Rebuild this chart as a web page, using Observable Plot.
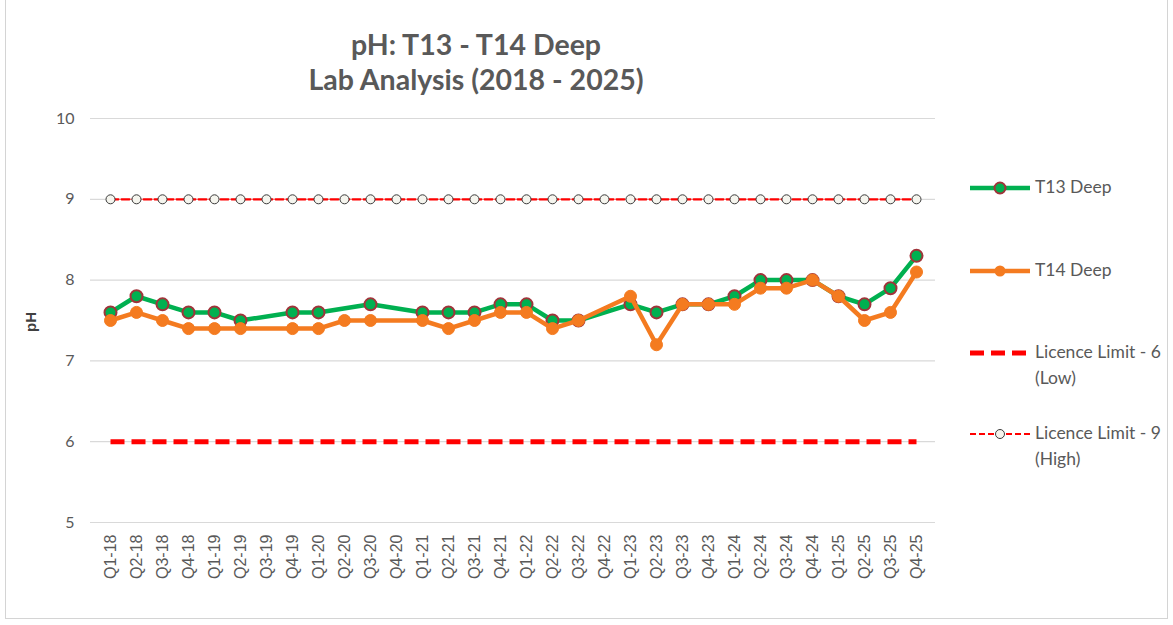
<!DOCTYPE html>
<html>
<head>
<meta charset="utf-8">
<script src="https://cdn.jsdelivr.net/npm/d3@7"></script>
<script src="https://cdn.jsdelivr.net/npm/@observablehq/plot@0.6"></script>
<style>
  html, body { margin: 0; padding: 0; background: #fff; }
  #wrap { position: relative; width: 1173px; height: 625px; overflow: hidden; font-family: Lato, "Open Sans", sans-serif; }
  #frame { position: absolute; left: 5px; top: -1px; width: 1163px; height: 620px; border: 1px solid #d4d4d4; box-sizing: border-box; }
  #title { position: absolute; left: 226px; width: 500px; top: 27px; text-align: center; font-weight: bold; font-size: 28.5px; line-height: 35px; color: #595959; }
  #chart { position: absolute; left: 0; top: 100px; }
  #ylab { position: absolute; left: 30px; top: 322px; transform: translate(-50%, -50%) rotate(-90deg); font-weight: bold; font-size: 15px; color: #404040; font-family: "Liberation Sans", Arial, sans-serif; }
  .leg { position: absolute; left: 968px; display: flex; align-items: flex-start; font-size: 17.5px; color: #595959; line-height: 26px; }
  .leg svg { margin-top: 2px; margin-right: 3px; flex: none; }
</style>
</head>
<body>
<div id="wrap">
  <div id="frame"></div>
  <div id="title">pH: T13 - T14 Deep<br>Lab Analysis (2018 - 2025)</div>
  <div id="chart"></div>
  <div id="ylab">pH</div>
  <div id="legend"></div>
</div>
<script>
const quarters = ["Q1-18","Q2-18","Q3-18","Q4-18","Q1-19","Q2-19","Q3-19","Q4-19",
  "Q1-20","Q2-20","Q3-20","Q4-20","Q1-21","Q2-21","Q3-21","Q4-21",
  "Q1-22","Q2-22","Q3-22","Q4-22","Q1-23","Q2-23","Q3-23","Q4-23",
  "Q1-24","Q2-24","Q3-24","Q4-24","Q1-25","Q2-25","Q3-25","Q4-25"];
const t13 = [7.6,7.8,7.7,7.6,7.6,7.5,null,7.6,
  7.6,null,7.7,null,7.6,7.6,7.6,7.7,
  7.7,7.5,7.5,null,7.7,7.6,7.7,7.7,
  7.8,8.0,8.0,8.0,7.8,7.7,7.9,8.3];
const t14 = [7.5,7.6,7.5,7.4,7.4,7.4,null,7.4,
  7.4,7.5,7.5,null,7.5,7.4,7.5,7.6,
  7.6,7.4,7.5,null,7.8,7.2,7.7,7.7,
  7.7,7.9,7.9,8.0,7.8,7.5,7.6,8.1];
const limitLow = 6;
const limitHigh = 9;
const yTicks = [5, 6, 7, 8, 9, 10];

const seriesNames = ["T13 Deep", "T14 Deep", "Licence Limit - 6 (Low)", "Licence Limit - 9 (High)"];

const d13 = quarters.map((q, i) => ({q, v: t13[i]})).filter(d => d.v != null);
const d14 = quarters.map((q, i) => ({q, v: t14[i]})).filter(d => d.v != null);
const dLow = quarters.map(q => ({q, v: limitLow}));
const dHigh = quarters.map(q => ({q, v: limitHigh}));

const green = "#00B050", orange = "#F47B20", red = "#FF0000";

const chart = Plot.plot({
  width: 1173,
  height: 525,
  marginLeft: 90,
  marginRight: 238,
  marginTop: 18,
  marginBottom: 103,
  style: {fontFamily: "'Liberation Sans', Arial, sans-serif", color: "#595959", background: "transparent"},
  x: {type: "point", domain: quarters, padding: 0.5},
  y: {domain: [5, 10]},
  marks: [
    Plot.ruleY(yTicks, {stroke: "#d9d9d9", strokeWidth: 1.2}),
    Plot.axisY({ticks: yTicks, tickFormat: d => String(d), tickSize: 0, tickPadding: 16, fontSize: 16, label: null, fill: "#595959", fontFamily: "Lato, sans-serif"}),
    Plot.axisX({tickSize: 0, tickRotate: -90, tickPadding: 12, fontSize: 16, label: null, fill: "#595959"}),
    Plot.line(dLow, {x: "q", y: "v", stroke: red, strokeWidth: 5, strokeDasharray: "14,7", strokeLinecap: "butt"}),
    Plot.line(dHigh, {x: "q", y: "v", stroke: red, strokeWidth: 2.2, strokeDasharray: "8,3"}),
    Plot.dot(dHigh, {x: "q", y: "v", r: 4.5, fill: "#f5f5ee", stroke: "#3a3a3a", strokeWidth: 1}),
    Plot.line(d13, {x: "q", y: "v", stroke: green, strokeWidth: 4.5, curve: "linear"}),
    Plot.dot(d13, {x: "q", y: "v", r: 6, fill: green, stroke: "#A0343A", strokeWidth: 2}),
    Plot.line(d14, {x: "q", y: "v", stroke: orange, strokeWidth: 4.5}),
    Plot.dot(d14, {x: "q", y: "v", r: 6, fill: orange, stroke: orange, strokeWidth: 1})
  ]
});
document.getElementById("chart").appendChild(chart);

// legend
const legendItems = [
  {name: seriesNames[0], top: 174, sw: `<line x1="2" y1="12" x2="62" y2="12" stroke="${green}" stroke-width="4.5"/><circle cx="32" cy="12" r="5.5" fill="${green}" stroke="#A0343A" stroke-width="2"/>`},
  {name: seriesNames[1], top: 257, sw: `<line x1="2" y1="12" x2="62" y2="12" stroke="${orange}" stroke-width="4.5"/><circle cx="32" cy="12" r="5.5" fill="${orange}"/>`},
  {name: "Licence Limit - 6<br>(Low)", top: 339, sw: `<line x1="2" y1="12" x2="62" y2="12" stroke="${red}" stroke-width="5" stroke-dasharray="14,7"/>`},
  {name: "Licence Limit - 9<br>(High)", top: 420, sw: `<line x1="2" y1="12" x2="62" y2="12" stroke="${red}" stroke-width="2.2" stroke-dasharray="6,3"/><circle cx="32" cy="12" r="4.5" fill="#f5f5ee" stroke="#3a3a3a" stroke-width="1"/>`}
];
const leg = document.getElementById("legend");
for (const it of legendItems) {
  const div = document.createElement("div");
  div.className = "leg";
  div.style.top = it.top + "px";
  div.innerHTML = `<svg width="64" height="24">${it.sw}</svg><span>${it.name}</span>`;
  leg.appendChild(div);
}
</script>
</body>
</html>
